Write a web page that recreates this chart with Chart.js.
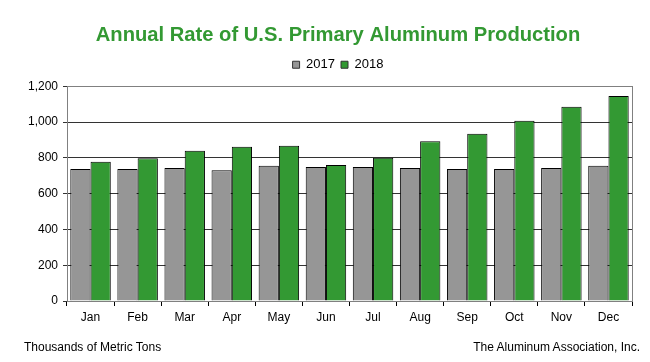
<!DOCTYPE html>
<html>
<head>
<meta charset="utf-8">
<script src="https://cdn.jsdelivr.net/npm/chart.js@4.4.1/dist/chart.umd.min.js"></script>
<style>
  html, body { margin: 0; padding: 0; background: #fff; }
  #wrap { position: relative; width: 650px; height: 362px; }
  .foot { position: absolute; top: 340px; font: 12px 'Liberation Sans', Arial, sans-serif; color: #000; white-space: nowrap; }
</style>
</head>
<body>
<div id="wrap">
  <canvas id="chart" width="650" height="362"></canvas>
  <div class="foot" style="left:24px">Thousands of Metric Tons</div>
  <div class="foot" style="right:10px">The Aluminum Association, Inc.</div>
</div>
<script>
const months = ['Jan', 'Feb', 'Mar', 'Apr', 'May', 'Jun', 'Jul', 'Aug', 'Sep', 'Oct', 'Nov', 'Dec'];
const prod2017 = [737, 737, 743, 730, 756, 749, 749, 743, 737, 737, 743, 756];
const prod2018 = [778, 797, 840, 862, 868, 760, 801, 892, 935, 1007, 1085, 1146];
const yTicks = [0, 200, 400, 600, 800, 1000, 1200];

const GRAY = '#969696', GREEN = '#339933';
const FONT = "'Liberation Sans', Arial, sans-serif";

// gray frame round the plot area (top and right edge)
const frame = {
  id: 'frame',
  beforeDatasetsDraw(chart) {
    const { ctx, chartArea: a } = chart;
    ctx.save();
    ctx.strokeStyle = '#808080';
    ctx.lineWidth = 1;
    ctx.strokeRect(Math.round(a.left) + 0.5, Math.round(a.top) + 0.5, Math.round(a.right - a.left), Math.round(a.bottom - a.top));
    ctx.restore();
  }
};

// more room under the legend, and title + legend centred a little right of the canvas middle
const headerTweak = {
  id: 'headerTweak',
  beforeInit(chart) {
    const fit = chart.legend.fit;
    chart.legend.fit = function () { fit.call(this); this.height += 5; };
  },
  afterLayout(chart) {
    [chart.titleBlock, chart.legend].forEach(b => { b.left += 22; b.right += 22; });
  }
};

new Chart(document.getElementById('chart'), {
  type: 'bar',
  data: {
    labels: months,
    datasets: [
      { label: '2017', data: prod2017, backgroundColor: GRAY, borderColor: '#000', borderWidth: 1 },
      { label: '2018', data: prod2018, backgroundColor: GREEN, borderColor: '#000', borderWidth: 1 },
    ],
  },
  options: {
    responsive: false,
    animation: false,
    layout: { padding: { left: 0, right: 18, top: 23, bottom: 0 } },
    datasets: { bar: { categoryPercentage: 0.86, barPercentage: 1 } },
    plugins: {
      title: {
        display: true,
        text: 'Annual Rate of U.S. Primary Aluminum Production',
        color: GREEN,
        font: { family: FONT, size: 20.2, weight: 'bold' },
        padding: { top: 0, bottom: 5 },
      },
      legend: {
        labels: {
          boxWidth: 7, boxHeight: 7, padding: 6, color: '#000',
          font: { family: FONT, size: 13 },
          generateLabels(chart) {
            return chart.data.datasets.map((d, i) => ({
              text: d.label, fillStyle: d.backgroundColor, strokeStyle: '#333', lineWidth: 1, datasetIndex: i,
            }));
          },
        },
      },
      tooltip: { enabled: false },
    },
    scales: {
      x: {
        grid: { offset: true, drawOnChartArea: false, color: '#000', tickLength: 5 },
        border: { color: '#000' },
        ticks: { color: '#000', padding: 4, font: { family: FONT, size: 12 } },
        afterFit(s) { s.height = 61; },
      },
      y: {
        min: 0, max: 1200,
        afterBuildTicks(s) { s.ticks = yTicks.map(v => ({ value: v })); },
        grid: { color: '#333', tickLength: 4 },
        border: { color: '#000' },
        ticks: {
          color: '#000', padding: 5,
          font: { family: FONT, size: 12 },
          callback: v => v.toLocaleString('en-US'),
        },
        afterFit(s) { s.width = 67; },
      },
    },
  },
  plugins: [frame, headerTweak],
});
</script>
</body>
</html>
